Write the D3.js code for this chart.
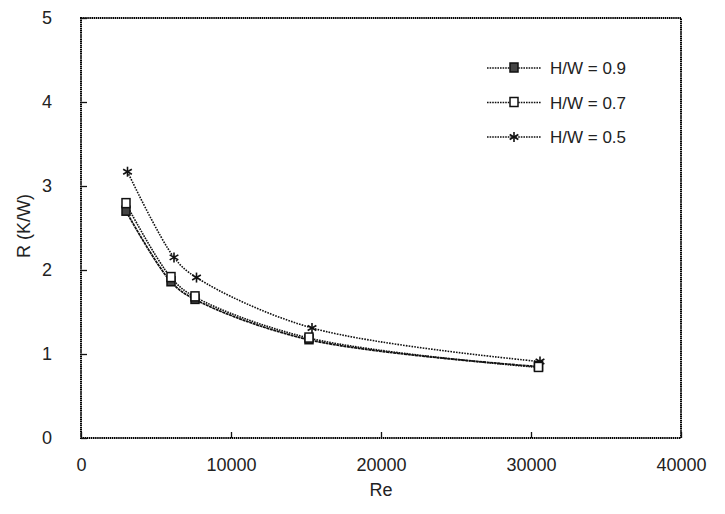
<!DOCTYPE html>
<html>
<head>
<meta charset="utf-8">
<script src="https://cdn.jsdelivr.net/npm/d3@7"></script>
<style>
  body { margin: 0; background: #fff; }
  text { font-family: "Liberation Sans", Arial, sans-serif; fill: #222; }
</style>
</head>
<body>
<div class="canvas"></div>
<script>
// data
const series = ['H/W = 0.9', 'H/W = 0.7', 'H/W = 0.5'];
const re09 = [3000, 6000, 7600, 15200, 30500];
const r09 = [2.70, 1.86, 1.65, 1.17, 0.85];
const re07 = [3000, 6000, 7600, 15200, 30500];
const r07 = [2.79, 1.91, 1.68, 1.19, 0.84];
const re05 = [3100, 6200, 7700, 15400, 30600];
const r05 = [3.17, 2.15, 1.91, 1.31, 0.91];
const xTicks = [0, 10000, 20000, 30000, 40000];
const yTicks = [0, 1, 2, 3, 4, 5];

const svg = d3.select('.canvas')
  .append('svg')
    .attr('width', 725)
    .attr('height', 514);

// plot area
const margin = {top: 18, right: 44, bottom: 76, left: 81};
const graphWidth = 725 - margin.left - margin.right;
const graphHeight = 514 - margin.top - margin.bottom;

const graph = svg.append('g')
  .attr('transform', `translate(${margin.left}, ${margin.top})`);

const x = d3.scaleLinear().domain([0, 40000]).range([0, graphWidth]);
const y = d3.scaleLinear().domain([0, 5]).range([graphHeight, 0]);

// frame
graph.append('rect')
  .attr('width', graphWidth)
  .attr('height', graphHeight)
  .attr('fill', 'none')
  .attr('stroke', '#000')
  .attr('stroke-width', 2)
  .attr('stroke-dasharray', '1.5,0.6');

// axes (ticks inward)
const xAxis = d3.axisBottom(x).tickValues(xTicks).tickSize(-6).tickPadding(20).tickFormat(d3.format('d'));
const yAxis = d3.axisLeft(y).tickValues(yTicks).tickSize(-6).tickPadding(23).tickFormat(d3.format('d'));

const xAxisGroup = graph.append('g')
  .attr('transform', `translate(0, ${graphHeight})`)
  .call(xAxis);
const yAxisGroup = graph.append('g').call(yAxis);

[xAxisGroup, yAxisGroup].forEach(g => {
  g.select('.domain').remove();
  g.selectAll('.tick line').attr('stroke', '#111').attr('stroke-width', 1.3);
  g.selectAll('.tick text').attr('font-size', 18).attr('fill', '#222')
    .style('font-family', '"Liberation Sans", Arial, sans-serif');
});
yAxisGroup.selectAll('.tick text').attr('text-anchor', 'middle').attr('dx', 0).attr('x', -34);

// axis titles
svg.append('text')
  .attr('x', margin.left + graphWidth / 2)
  .attr('y', 496)
  .attr('text-anchor', 'middle')
  .attr('font-size', 18)
  .text('Re');

svg.append('text')
  .attr('transform', `translate(30, ${margin.top + graphHeight / 2 - 2}) rotate(-90)`)
  .attr('text-anchor', 'middle')
  .attr('font-size', 18)
  .text('R (K/W)');

// lines
const line = d3.line()
  .x(d => x(d.re))
  .y(d => y(d.r))
  .curve(d3.curveCatmullRom.alpha(0.5));

const styles = [
  {dash: '3,0.6', width: 1.8, marker: 'filled'},
  {dash: '1.6,1', width: 1.6, marker: 'open'},
  {dash: '1.6,1.2', width: 1.6, marker: 'star'}
];

const allData = [
  re09.map((re, i) => ({re, r: r09[i]})),
  re07.map((re, i) => ({re, r: r07[i]})),
  re05.map((re, i) => ({re, r: r05[i]}))
];

const drawMarker = (g, type, cx, cy) => {
  if (type === 'star') {
    const s = 5;
    [[0, -s, 0, s], [-s * 0.87, -s * 0.5, s * 0.87, s * 0.5], [-s * 0.87, s * 0.5, s * 0.87, -s * 0.5]]
      .forEach(p => g.append('line')
        .attr('x1', cx + p[0]).attr('y1', cy + p[1])
        .attr('x2', cx + p[2]).attr('y2', cy + p[3])
        .attr('stroke', '#111').attr('stroke-width', 1.6));
  } else {
    g.append('rect')
      .attr('x', cx - 4).attr('y', cy - 5)
      .attr('width', 8).attr('height', 9)
      .attr('fill', type === 'filled' ? '#444' : '#fff')
      .attr('stroke', '#111').attr('stroke-width', 1.5);
  }
};

allData.forEach((data, i) => {
  graph.append('path')
    .datum(data)
    .attr('d', line)
    .attr('fill', 'none')
    .attr('stroke', '#111')
    .attr('stroke-width', styles[i].width)
    .attr('stroke-dasharray', styles[i].dash);
});

// markers drawn on top, 0.5 first so squares stay visible
[2, 0, 1].forEach(i => {
  const g = graph.append('g');
  allData[i].forEach(d => drawMarker(g, styles[i].marker, x(d.re), y(d.r)));
});

// legend
const legend = svg.append('g').attr('transform', 'translate(487, 68)');
series.forEach((name, i) => {
  const row = legend.append('g').attr('transform', `translate(0, ${i * 34.5})`);
  row.append('line')
    .attr('x1', 0).attr('x2', 54)
    .attr('stroke', '#111').attr('stroke-width', 1.5)
    .attr('stroke-dasharray', '1.6,1');
  drawMarker(row, styles[i].marker, 27, 0);
  row.append('text')
    .attr('x', 63).attr('y', 6)
    .attr('font-size', 17)
    .text(name);
});
</script>
</body>
</html>
